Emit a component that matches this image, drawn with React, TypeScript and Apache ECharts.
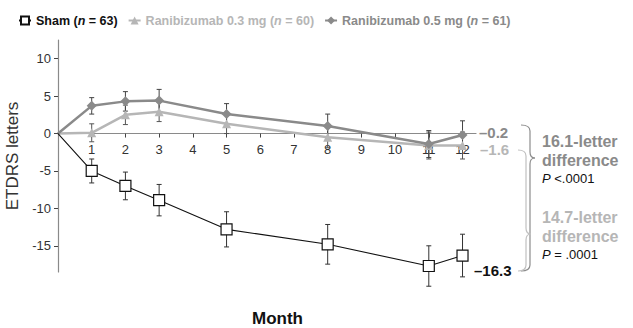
import React, { useEffect, useRef } from "react";
import * as echarts from "echarts";

const months = [0, 1, 2, 3, 5, 8, 11, 12];
const shamMean = [0, -5.0, -7.0, -8.9, -12.8, -14.8, -17.7, -16.3];
const shamSE = [0, 1.6, 1.85, 2.1, 2.35, 2.65, 2.7, 2.85];
const r05Mean = [0, 3.7, 4.3, 4.4, 2.6, 1.0, -1.4, -0.2];
const r05SE = [0, 1.1, 1.3, 1.5, 1.4, 1.6, 1.8, 1.9];
const r03Mean = [0, 0.1, 2.5, 2.9, 1.3, -0.5, -1.6, -1.6];
const r03SE = [0, 1.2, 1.3, 1.3, 1.3, 1.4, 1.8, 1.8];
const xTicks = [1, 2, 3, 4, 5, 6, 7, 8, 9, 10, 11, 12];
const yTicks = [-15, -10, -5, 0, 5, 10];
const Y_MIN = -18.5;
const Y_MAX = 12.5;

const FONT = '"Liberation Sans", Arial, sans-serif';
const C_SHAM = "#111111";
const C_05 = "#8a8a8a";
const C_03 = "#b6b6b6";

const GRID_TOP = 40;
const GRID_BOTTOM = 56;
const GRID_H = 328 - GRID_TOP - GRID_BOTTOM;

function lineData(means: number[]) {
  return months.map((m, i) => (i === 0 ? { value: [m, means[i]], symbol: "none" } : [m, means[i]]));
}
function errData(means: number[], se: number[]) {
  const out: number[][] = [];
  months.forEach((m, i) => {
    if (i > 0) out.push([m, means[i] - se[i], means[i] + se[i]]);
  });
  return out;
}
function errSeries(name: string, means: number[], se: number[], color: string) {
  return {
    type: "custom",
    name,
    clip: false,
    z: 1,
    encode: { x: 0, y: [1, 2] },
    data: errData(means, se),
    renderItem: (params: any, api: any) => {
      const x = api.value(0);
      const lo = api.coord([x, api.value(1)]);
      const hi = api.coord([x, api.value(2)]);
      const w = 2.5;
      const st = { stroke: color, lineWidth: 1 };
      return {
        type: "group",
        children: [
          { type: "line", shape: { x1: lo[0], y1: lo[1], x2: hi[0], y2: hi[1] }, style: st },
          { type: "line", shape: { x1: lo[0] - w, y1: lo[1], x2: lo[0] + w, y2: lo[1] }, style: st },
          { type: "line", shape: { x1: hi[0] - w, y1: hi[1], x2: hi[0] + w, y2: hi[1] }, style: st },
        ],
      };
    },
  };
}

function brace(x0: number, xm: number, xt: number, y1: number, yt: number, y2: number, color: string) {
  const r = 6;
  const st = { stroke: color, lineWidth: 1.2, fill: null };
  return {
    type: "group",
    children: [
      { type: "bezierCurve", shape: { x1: x0, y1: y1, x2: xm, y2: y1 + r, cpx1: xm, cpy1: y1 }, style: st },
      { type: "line", shape: { x1: xm, y1: y1 + r, x2: xm, y2: yt - r }, style: st },
      { type: "bezierCurve", shape: { x1: xm, y1: yt - r, x2: xt, y2: yt, cpx1: xm, cpy1: yt }, style: st },
      { type: "bezierCurve", shape: { x1: xt, y1: yt, x2: xm, y2: yt + r, cpx1: xm, cpy1: yt }, style: st },
      { type: "line", shape: { x1: xm, y1: yt + r, x2: xm, y2: y2 - r }, style: st },
      { type: "bezierCurve", shape: { x1: xm, y1: y2 - r, x2: x0, y2: y2, cpx1: xm, cpy1: y2 }, style: st },
    ],
  };
}

function txt(x: number, y: number, text: string, fill: string, size: number, weight: string, rich?: any) {
  return {
    type: "text",
    x,
    y,
    style: {
      text,
      fill,
      fontSize: size,
      fontWeight: weight,
      fontFamily: FONT,
      verticalAlign: "middle",
      rich,
    },
  };
}

export default function App() {
  const ref = useRef<HTMLDivElement>(null);
  useEffect(() => {
    if (!ref.current) return;
    const chart = echarts.init(ref.current, null, { renderer: "svg" });
    const richP = { i: { fontStyle: "italic", fontSize: 13, fontFamily: FONT, fill: "#111" } };
    // distance from grid bottom up to the y = 0 line (x axis drawn there)
    const zeroOffset = -((0 - Y_MIN) / (Y_MAX - Y_MIN)) * GRID_H;
    const LS = 12.5;
    const option: any = {
      animation: false,
      backgroundColor: "#ffffff",
      textStyle: { fontFamily: FONT },
      grid: { left: 58, right: 157, top: GRID_TOP, bottom: GRID_BOTTOM, containLabel: false, outerBoundsMode: "none" },
      legend: {
        left: 13,
        top: 9,
        itemWidth: 12,
        itemHeight: 10,
        itemGap: 10,
        data: ["Sham", "Ranibizumab 0.3 mg", "Ranibizumab 0.5 mg"],
        formatter: (name: string) => {
          if (name === "Sham") return "{sb|Sham (}{si|n}{sb| = 63)}";
          if (name === "Ranibizumab 0.3 mg") return "{lb|Ranibizumab 0.3 mg (}{li|n}{lb| = 60)}";
          return "{db|Ranibizumab 0.5 mg (}{di|n}{db| = 61)}";
        },
        textStyle: {
          fontFamily: FONT,
          fontSize: LS,
          fontWeight: "bold",
          rich: {
            sb: { color: C_SHAM, fontWeight: "bold", fontSize: LS, fontFamily: FONT },
            si: { color: C_SHAM, fontWeight: "bold", fontStyle: "italic", fontSize: LS, fontFamily: FONT },
            lb: { color: C_03, fontWeight: "bold", fontSize: LS, fontFamily: FONT },
            li: { color: C_03, fontWeight: "bold", fontStyle: "italic", fontSize: LS, fontFamily: FONT },
            db: { color: C_05, fontWeight: "bold", fontSize: LS, fontFamily: FONT },
            di: { color: C_05, fontWeight: "bold", fontStyle: "italic", fontSize: LS, fontFamily: FONT },
          },
        },
      },
      xAxis: {
        type: "value",
        min: 0,
        max: 12.4,
        position: "bottom",
        offset: zeroOffset,
        axisLine: { onZero: false, lineStyle: { color: "#8a8a8a", width: 1.2 } },
        axisTick: { length: 4, lineStyle: { color: "#444" }, customValues: xTicks },
        axisLabel: { customValues: xTicks, color: "#333", fontSize: 13, margin: 9, fontFamily: FONT },
        splitLine: { show: false },
      },
      yAxis: {
        type: "value",
        min: Y_MIN,
        max: Y_MAX,
        position: "left",
        name: "ETDRS letters",
        nameLocation: "middle",
        nameGap: 25,
        nameTextStyle: { fontSize: 17, color: "#333", fontFamily: FONT },
        axisLine: { show: true, onZero: false, lineStyle: { color: "#8a8a8a", width: 1.2 } },
        axisTick: { show: true, length: 4, lineStyle: { color: "#444" }, customValues: yTicks },
        axisLabel: { customValues: yTicks, color: "#333", fontSize: 13, margin: 7, fontFamily: FONT },
        splitLine: { show: false },
      },
      series: [
        errSeries("err03", r03Mean, r03SE, "#555"),
        errSeries("err05", r05Mean, r05SE, "#444"),
        errSeries("errSham", shamMean, shamSE, "#333"),
        {
          type: "line",
          name: "Ranibizumab 0.3 mg",
          data: lineData(r03Mean),
          z: 3,
          symbol: "triangle",
          symbolSize: 9,
          lineStyle: { color: C_03, width: 2.5 },
          itemStyle: { color: C_03 },
        },
        {
          type: "line",
          name: "Ranibizumab 0.5 mg",
          data: lineData(r05Mean),
          z: 4,
          symbol: "diamond",
          symbolSize: 10,
          lineStyle: { color: C_05, width: 2.5 },
          itemStyle: { color: C_05 },
        },
        {
          type: "line",
          name: "Sham",
          data: lineData(shamMean),
          z: 5,
          symbol: "rect",
          symbolSize: 11,
          lineStyle: { color: C_SHAM, width: 1.1 },
          itemStyle: { color: "#ffffff", borderColor: C_SHAM, borderWidth: 1.2 },
        },
      ],
      graphic: [
        txt(252, 318, "Month", "#111", 17, "bold"),
        txt(479, 132, "\u20130.2", C_05, 15, "bold"),
        txt(480, 149, "\u20131.6", C_03, 15, "bold"),
        txt(474, 270, "\u201316.3", "#111", 15, "bold"),
        brace(521, 530, 535, 125, 158, 271, "#8c8c8c"),
        brace(518, 526, 531, 150, 234, 271, "#c0c0c0"),
        txt(542, 141, "16.1-letter", C_05, 16, "bold"),
        txt(542, 160, "difference", C_05, 16, "bold"),
        txt(542, 178, "{i|P} <.0001", "#111", 13, "normal", richP),
        txt(542, 217, "14.7-letter", C_03, 16, "bold"),
        txt(542, 236, "difference", C_03, 16, "bold"),
        txt(542, 254, "{i|P} = .0001", "#111", 13, "normal", richP),
      ],
    };
    chart.setOption(option);
    return () => chart.dispose();
  }, []);
  return (
    <div
      ref={ref}
      style={{ position: "fixed", left: 0, top: 0, width: 633, height: 328, background: "#fff" }}
    />
  );
}
